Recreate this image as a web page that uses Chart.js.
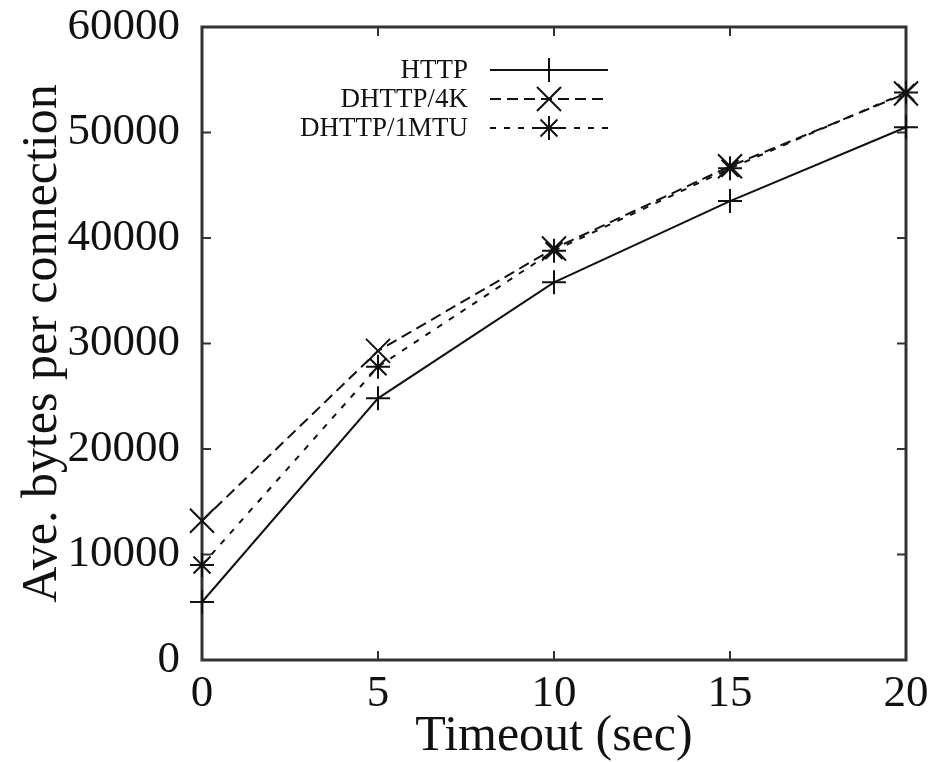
<!DOCTYPE html>
<html>
<head>
<meta charset="utf-8">
<script src="https://cdn.jsdelivr.net/npm/chart.js@4/dist/chart.umd.min.js"></script>
<style>
  html, body { margin: 0; padding: 0; background: #fff; }
  #wrap { width: 935px; height: 762px; }
</style>
</head>
<body>
<div id="wrap"><canvas id="chart" width="935" height="762"></canvas></div>
<script>
// timeout values (sec) and average bytes per connection
const timeouts = [0, 5, 10, 15, 20];
const httpBytes = [5500, 24800, 35800, 43500, 50500];
const dhttp4k = [13200, 29300, 39000, 46800, 53700];
const dhttp1mtu = [9000, 27800, 38800, 46600, 53800];
const xTicks = [0, 5, 10, 15, 20];
const yTicks = [0, 10000, 20000, 30000, 40000, 50000, 60000];

const serif = "'Liberation Serif', 'DejaVu Serif', serif";
const ink = '#111';

function pts(ys){
  return timeouts.map((x, i) => ({ x, y: ys[i] }));
}

// gnuplot style frame with inward ticks on all sides
const framePlugin = {
  id: 'frame',
  beforeDatasetsDraw(chart){
    const { ctx, chartArea: a, scales } = chart;
    ctx.save();
    ctx.strokeStyle = '#333';
    ctx.lineWidth = 3;
    ctx.strokeRect(a.left, a.top, a.right - a.left, a.bottom - a.top);
    ctx.lineWidth = 2;
    const len = 9;
    ctx.beginPath();
    xTicks.forEach(v => {
      const px = scales.x.getPixelForValue(v);
      ctx.moveTo(px, a.bottom); ctx.lineTo(px, a.bottom - len);
      ctx.moveTo(px, a.top); ctx.lineTo(px, a.top + len);
    });
    yTicks.forEach(v => {
      const py = scales.y.getPixelForValue(v);
      ctx.moveTo(a.left, py); ctx.lineTo(a.left + len, py);
      ctx.moveTo(a.right, py); ctx.lineTo(a.right - len, py);
    });
    ctx.stroke();
    ctx.restore();
  }
};

// legend inside the plot: label right-aligned, then a line sample with marker
const keyPlugin = {
  id: 'key',
  afterDraw(chart){
    const { ctx } = chart;
    const textRight = 468, x0 = 490, x1 = 608, top = 70, step = 29;
    ctx.save();
    chart.data.datasets.forEach((ds, i) => {
      const y = top + i * step;
      ctx.font = '27px ' + serif;
      ctx.fillStyle = ink;
      ctx.textAlign = 'right';
      ctx.textBaseline = 'middle';
      ctx.fillText(ds.label, textRight, y + 1);
      ctx.strokeStyle = ink;
      ctx.lineWidth = ds.borderWidth;
      ctx.setLineDash(ds.borderDash || []);
      ctx.beginPath();
      ctx.moveTo(x0, y); ctx.lineTo(x1, y);
      ctx.stroke();
      ctx.setLineDash([]);
      ctx.lineWidth = ds.pointBorderWidth;
      Chart.helpers.drawPoint(ctx, { pointStyle: ds.pointStyle, radius: ds.pointRadius, rotation: 0, borderWidth: ds.pointBorderWidth }, (x0 + x1) / 2, y);
    });
    ctx.restore();
  }
};

const lineSet = (label, ys, dash, style, r) => ({
  label,
  data: pts(ys),
  borderColor: ink,
  backgroundColor: ink,
  borderWidth: 2,
  borderDash: dash,
  pointStyle: style,
  pointRadius: r,
  pointBorderWidth: 2,
  pointBorderColor: ink,
  tension: 0,
  fill: false,
  clip: false
});

new Chart(document.getElementById('chart'), {
  type: 'line',
  data: {
    datasets: [
      lineSet('HTTP', httpBytes, [], 'cross', 12),
      lineSet('DHTTP/4K', dhttp4k, [11, 6], 'crossRot', 17),
      lineSet('DHTTP/1MTU', dhttp1mtu, [6, 8], 'star', 12)
    ]
  },
  options: {
    responsive: false,
    animation: false,
    events: [],
    layout: { padding: { top: 27, right: 29, left: 0, bottom: 0 } },
    plugins: { legend: { display: false }, tooltip: { enabled: false } },
    scales: {
      x: {
        type: 'linear',
        min: 0, max: 20,
        afterBuildTicks: s => { s.ticks = xTicks.map(v => ({ value: v })); },
        afterFit: s => { s.height = 102; s.paddingLeft = 0; s.paddingRight = 0; },
        grid: { display: false, drawTicks: false },
        border: { display: false },
        ticks: { color: ink, font: { family: serif, size: 45 }, padding: 7, maxRotation: 0 },
        title: { display: true, text: 'Timeout (sec)', color: ink, font: { family: serif, size: 50, lineHeight: 1.0 }, padding: 0 }
      },
      y: {
        min: 0, max: 60000,
        afterBuildTicks: s => { s.ticks = yTicks.map(v => ({ value: v })); },
        afterFit: s => { s.width = 202; s.paddingTop = 0; s.paddingBottom = 0; },
        grid: { display: false, drawTicks: false },
        border: { display: false },
        ticks: { color: ink, font: { family: serif, size: 45 }, padding: 22, callback: v => String(v) },
        title: { display: true, text: 'Ave. bytes per connection', color: ink, font: { family: serif, size: 50, lineHeight: 1.0 }, padding: 18 }
      }
    }
  },
  plugins: [framePlugin, keyPlugin]
});
</script>
</body>
</html>
